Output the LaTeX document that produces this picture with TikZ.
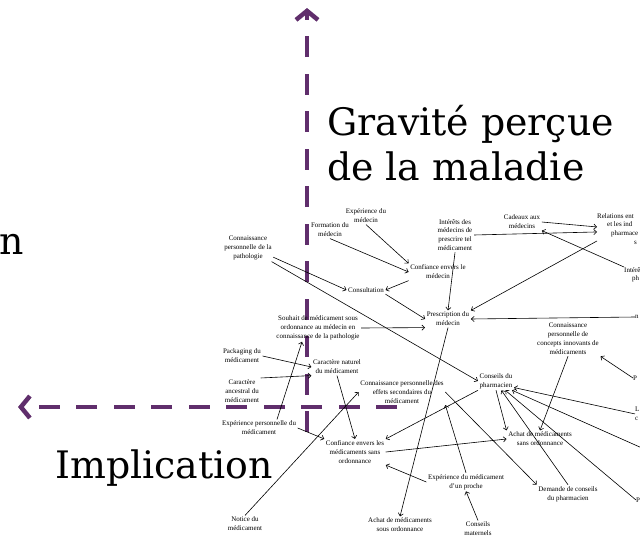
\documentclass[tikz,border=0pt]{standalone}
\usepackage{fontspec}
\setmainfont{Liberation Serif}
\newfontfamily\bigfont{DejaVu Serif}
\usetikzlibrary{arrows.meta}
\definecolor{axispurple}{RGB}{96,46,108}

\begin{document}
\begin{tikzpicture}[>={Straight Barb[length=2.8bp,width=5.2bp]},line join=bevel,
  box/.style={align=center,inner sep=1.5bp,font=\fontsize{7}{8.9}\selectfont},
  cut/.style={align=left,inner sep=0pt,font=\fontsize{7}{8.9}\selectfont},
  axis/.style={axispurple,line width=4.5bp,dash pattern=on 21bp off 16.5bp,
    -{Straight Barb[length=9bp,width=22bp]}},
  axislabel/.style={font=\bigfont\fontsize{38}{45}\selectfont,inner sep=0pt,align=left},
  link/.style={black,line width=0.6bp,->}]
\useasboundingbox (0,0) rectangle (640bp,-538bp);
\clip (0,0) rectangle (640bp,-538bp);
%%
\coordinate (v_start) at (307bp,-432bp);
\coordinate (v_end) at (307bp,-8bp);
\coordinate (h_start) at (397bp,-407bp);
\coordinate (h_end) at (18bp,-407bp);
\draw [axis] (v_start) -- (v_end);
\draw [axis] (h_start) -- (h_end);
\node (lbl_gravite) at (327bp,-180bp) [axislabel,anchor=base west] {Gravité perçue\\de la maladie};
\node (lbl_implication) at (55bp,-478bp) [axislabel,anchor=base west] {Implication};
\node (lbl_cut) at (24bp,-254bp) [axislabel,anchor=base east] {n};
%
\node (form_medecin) at (330bp,-230bp) [box] {Formation du\\médecin};
\node (exp_medecin) at (366bp,-216bp) [box] {Expérience du\\médecin};
\node (conn_patho) at (248bp,-248bp) [box] {Connaissance\\personnelle de la\\pathologie};
\node (conf_medecin) at (438bp,-272bp) [box] {Confiance envers le\\médecin};
\node (interets_med) at (455bp,-235bp) [box] {Intérêts des\\médecins de\\prescrire tel\\médicament};
\node (cadeaux) at (522bp,-222bp) [box] {Cadeaux aux\\médecins};
\node (relations) at (597bp,-213bp) [cut,anchor=north west] {Relations ent\\\hspace*{10bp}et les ind\\\hspace*{14bp}pharmace\\\hspace*{37bp}s};
\node (interet_ph) at (624bp,-267bp) [cut,anchor=north west] {Intérê\\\hspace*{8bp}ph};
\node (cut_n) at (635bp,-317bp) [cut,anchor=west] {n};
\node (consult) at (366bp,-290bp) [box] {Consultation};
\node (presc_med) at (448bp,-319bp) [box] {Prescription du\\médecin};
\node (souhait) at (318bp,-328bp) [box] {Souhait de médicament sous\\ordonnance au médecin en\\connaissance de la pathologie};
\node (conn_concepts) at (568bp,-339bp) [box] {Connaissance\\personnelle de\\concepts innovants de\\médicaments};
\node (packaging) at (242bp,-356bp) [box] {Packaging du\\médicament};
\node (car_naturel) at (337bp,-367bp) [box] {Caractère naturel\\du médicament};
\node (car_ancestral) at (242bp,-391bp) [box] {Caractère\\ancestral du\\médicament};
\node (conn_effets) at (402bp,-392bp) [box] {Connaissance personnelle des\\effets secondaires du\\médicament};
\node (conseils_ph) at (496bp,-381bp) [box] {Conseils du\\pharmacien};
\node (cut_p1) at (633bp,-378bp) [cut,anchor=west] {P};
\node (cut_lc) at (635bp,-407bp) [cut,anchor=north west] {L\\c};
\node (exp_perso) at (259bp,-428bp) [box] {Expérience personnelle du\\médicament};
\node (conf_sans) at (355bp,-452bp) [box] {Confiance envers les\\médicaments sans\\ordonnance};
\node (achat_sans) at (540bp,-439bp) [box] {Achat de médicaments\\sans ordonnance};
\node (exp_proche) at (466bp,-482bp) [box] {Expérience du médicament\\d'un proche};
\node (demande) at (568bp,-494bp) [box] {Demande de conseils\\du pharmacien};
\node (cut_p2) at (636bp,-500bp) [cut,anchor=west] {P};
\node (notice) at (245bp,-524bp) [box] {Notice du\\médicament};
\node (achat_sous) at (400bp,-525bp) [box] {Achat de médicaments\\sous ordonnance};
\node (conseils_mat) at (478bp,-529bp) [box] {Conseils\\maternels};
\coordinate (off_right) at (660bp,-456bp);
%
\draw [link] (exp_medecin.south) -- (conf_medecin.north west);
\draw [link] (form_medecin.south) -- (conf_medecin.west);
\draw [link] (conf_medecin.south west) -- (consult.east);
\draw [link] (conn_patho.-20) -- (consult.west);
\draw [link] (conn_patho.-30) -- (conseils_ph.west);
\draw [link] (interets_med.south) -- (presc_med.north);
\draw [link] (consult.south east) -- (presc_med.west);
\draw [link] (interets_med.east) -- ([yshift=-3bp]relations.west);
\draw [link] (cadeaux.east) -- ([yshift=2bp]relations.west);
\draw [link] (interet_ph.north west) -- (cadeaux.south east);
\draw [link] ([yshift=-12bp]relations.west) -- (presc_med.north east);
\draw [link] (cut_n.west) -- (presc_med.east);
\draw [link] (souhait.east) -- (presc_med.south west);
\draw [link] (packaging.east) -- (car_naturel.west);
\draw [link] (car_ancestral.north east) -- (car_naturel.south west);
\draw [link] ([xshift=18bp]exp_perso.north) -- ([xshift=-16bp]souhait.south);
\draw [link] (exp_perso.east) -- (conf_sans.north west);
\draw [link] (car_naturel.south) -- (conf_sans.north);
\draw [link] (notice.north) -- (conn_effets.west);
\draw [link] (presc_med.south) -- (achat_sous.north);
\draw [link] (conseils_ph.south west) -- (conf_sans.north east);
\draw [link] (conseils_ph.south) -- (achat_sans.north west);
\draw [link] (conn_effets.east) -- (demande.north west);
\draw [link] (exp_proche.north) -- (conn_effets.south east);
\draw [link] (conseils_mat.north) -- (exp_proche.south);
\draw [link] (exp_proche.west) -- (conf_sans.south east);
\draw [link] (conf_sans.east) -- (achat_sans.west);
\draw [link] (conn_concepts.south) -- (achat_sans.north);
\draw [link] (cut_p1.west) -- (conn_concepts.south east);
\draw [link] (cut_lc.west) -- (conseils_ph.-20);
\draw [link] (off_right) -- (conseils_ph.-30);
\draw [link] (cut_p2.west) -- (conseils_ph.-45);
\draw [link] (demande.north) -- (conseils_ph.-60);
%
\end{tikzpicture}
\end{document}
